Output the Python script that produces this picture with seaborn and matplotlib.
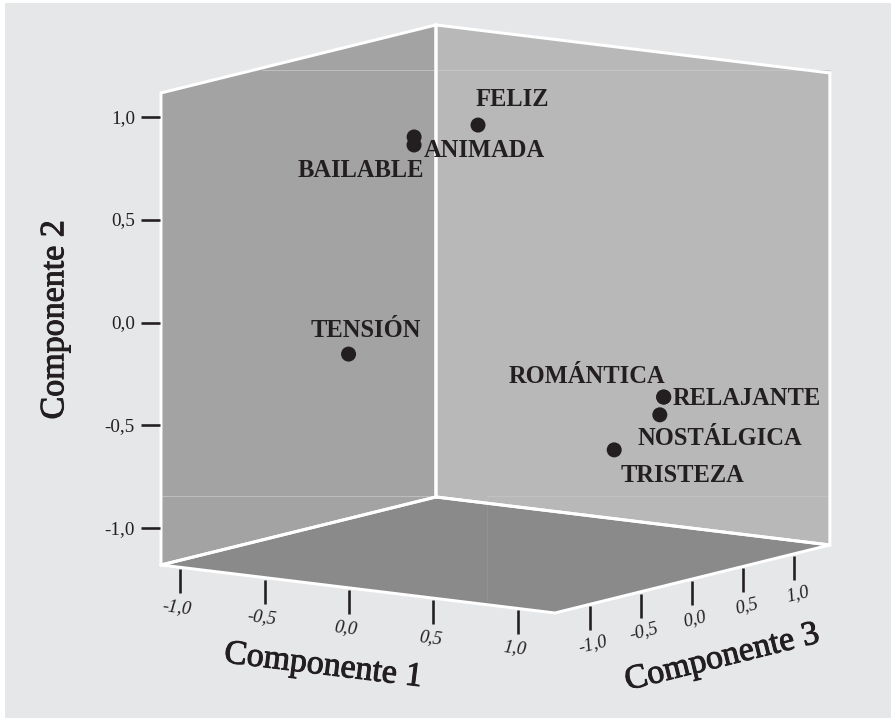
import numpy as np
import pandas as pd
import matplotlib
matplotlib.use("Agg")
import matplotlib.pyplot as plt
import matplotlib.patheffects as pe
import seaborn as sns

# cargas de cada variable en los tres componentes
variables = ["FELIZ", "ANIMADA", "BAILABLE", "TENSIÓN", "ROMÁNTICA", "RELAJANTE", "NOSTÁLGICA", "TRISTEZA"]
comp1 = [-0.382, -0.488, -0.458, -0.634, 0.627, 0.598, 0.544, 0.395]
comp2 = [0.802, 0.789, 0.759, -0.233, -0.439, -0.448, -0.546, -0.707]
comp3 = [0.55, 0.10, 0.05, -0.30, 0.70, 0.75, 0.80, 0.60]

ticks = [-1.0, -0.5, 0.0, 0.5, 1.0]
lim1 = (-1.114, 1.221)
lim2 = (-1.179, 1.118)
lim3 = (-1.342, 1.346)

# posicion de cada etiqueta respecto a su punto
offsets = {
    "FELIZ": (-2, 19), "ANIMADA": (10, -20), "BAILABLE": (-116, -32),
    "TENSIÓN": (-37.5, 17), "ROMÁNTICA": (-154.5, 14), "RELAJANTE": (9.3, -8),
    "NOSTÁLGICA": (-22.7, -30.3), "TRISTEZA": (6.4, -31.7),
}


def proyectar(c1, c2, c3):
    x = 486.2 + 168.7 * np.asarray(c1) + 102.3 * np.asarray(c3)
    y = 311.65 + 20.56 * np.asarray(c1) - 25.3 * np.asarray(c3) - 205.5 * np.asarray(c2)
    return x, y


def fmt(v):
    return f"{v:.1f}".replace(".", ",")


sns.set_theme(style="white")
plt.rcParams["font.family"] = ["Liberation Serif", "DejaVu Serif"]
ink = "#231f20"
medio = [pe.withStroke(linewidth=1.0, foreground=ink)]

fig = plt.figure(figsize=(891 / 72, 718 / 72), dpi=72, facecolor="white")
ax = fig.add_axes([0, 0, 1, 1])
ax.set_xlim(0, 891)
ax.set_ylim(718, 0)
ax.axis("off")

# fondo
ax.add_patch(plt.Rectangle((5, 3), 886, 715, fc="#e6e7e9", ec="none", zorder=0))

# caja: paredes y suelo
a, b = lim1
c, d = lim3
lo, hi = lim2
izq = proyectar([a, a, a, a], [lo, hi, hi, lo], [c, c, d, d])
der = proyectar([a, a, b, b], [lo, hi, hi, lo], [d, d, d, d])
suelo = proyectar([a, a, b, b], [lo, lo, lo, lo], [c, d, d, c])
ax.fill(*izq, fc="#a3a3a3", ec="none", zorder=1)
ax.fill(*der, fc="#b8b8b8", ec="none", zorder=1)
ax.fill(*suelo, fc="#8a8a8a", ec="none", zorder=1)

# lineas tenues del original
ax.plot([262, 830], [70, 70], color="#c6c6c6", lw=0.8, zorder=2)
ax.plot([161, 436], [496, 496], color="#c4c4c4", lw=0.8, zorder=2)
ax.plot([487, 830], [496, 496], color="#c4c4c4", lw=0.8, zorder=2)
ax.plot([487, 487], [503, 600], color="#959595", lw=0.8, zorder=2)

for poly in (izq, der, suelo):
    ax.plot(np.r_[poly[0], poly[0][0]], np.r_[poly[1], poly[1][0]], color="white", lw=3,
            solid_joinstyle="miter", zorder=3)

# eje componente 2
for t in ticks:
    x, y = proyectar(a, t, c)
    ax.plot([x - 20, x - 1], [y, y], color=ink, lw=2.6, solid_capstyle="butt", zorder=4)
    ax.text(x - 26, y + 1, fmt(t), ha="right", va="center", fontsize=19, color=ink)

# eje componente 1
for t in ticks:
    x, y = proyectar(t, lo, c)
    ax.plot([x, x], [y + 2, y + 26], color=ink, lw=2.6, solid_capstyle="butt", zorder=4)
    ax.text(x - 3, y + 40, fmt(t), ha="center", va="center", fontsize=18.5, color=ink,
            rotation=-7, rotation_mode="anchor", style="italic")

# eje componente 3
for t in ticks:
    x, y = proyectar(b, lo, t)
    ax.plot([x, x], [y + 2, y + 26], color=ink, lw=2.6, solid_capstyle="butt", zorder=4)
    ax.text(x + 3, y + 40, fmt(t), ha="center", va="center", fontsize=18.5, color=ink,
            rotation=14, rotation_mode="anchor", style="italic")

# puntos
df = pd.DataFrame({"variable": variables, "c1": comp1, "c2": comp2, "c3": comp3})
df["px"], df["py"] = proyectar(df["c1"], df["c2"], df["c3"])
sns.scatterplot(data=df, x="px", y="py", s=225, color=ink, edgecolor="none", legend=False, ax=ax, zorder=5)
ax.set_xlim(0, 891)
ax.set_ylim(718, 0)

for _, fila in df.iterrows():
    ax.annotate(fila["variable"], (fila["px"], fila["py"]), xytext=offsets[fila["variable"]],
                textcoords="offset points", ha="left", va="baseline", fontsize=24.5,
                fontweight="bold", color=ink, zorder=6)

# titulos de los ejes
ax.text(55, 320, "Componente 2", rotation=90, ha="center", va="center", fontsize=34,
        color=ink, path_effects=medio)
ax.text(323, 666, "Componente 1", rotation=-7, rotation_mode="anchor", ha="center", va="center",
        fontsize=34, color=ink, path_effects=medio)
ax.text(722, 658, "Componente 3", rotation=14, rotation_mode="anchor", ha="center", va="center",
        fontsize=34, color=ink, path_effects=medio)

fig.savefig("out.png", dpi=72, facecolor="white")
